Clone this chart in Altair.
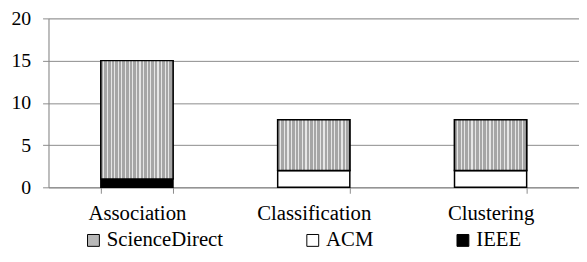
import altair as alt
import pandas as pd

categories = ["Association", "Classification", "Clustering"]
series = ["ScienceDirect", "ACM", "IEEE"]
sciencedirect = [14, 6, 6]
acm = [0, 2, 2]
ieee = [1, 0, 0]

# stacking order bottom -> top: IEEE, ACM, ScienceDirect
rows = []
for i, c in enumerate(categories):
    base = 0
    for s, vals in (("IEEE", ieee), ("ACM", acm), ("ScienceDirect", sciencedirect)):
        v = vals[i]
        if v > 0:
            rows.append({"category": c, "series": s, "y0": base, "y1": base + v})
        base += v
df = pd.DataFrame(rows)

# striped fill (vertical lines) via hard-stop gradient
n = 20
stops = []
for k in range(n):
    a = k / n
    b = (k + 0.68) / n
    e = (k + 1) / n
    stops += [
        alt.GradientStop(offset=a, color="#a6a6a6"),
        alt.GradientStop(offset=b, color="#a6a6a6"),
        alt.GradientStop(offset=b, color="#e6e6e6"),
        alt.GradientStop(offset=e, color="#e6e6e6"),
    ]
stripe = alt.LinearGradient(gradient="linear", stops=stops, x1=0, x2=1, y1=0, y2=0)

FONT = "Liberation Serif, Times New Roman, serif"

x_enc = alt.X(
    "category:N",
    sort=categories,
    scale=alt.Scale(paddingInner=0.592, paddingOuter=0.296),
    axis=alt.Axis(
        title=None, labelAngle=0, tickBand="extent", tickSize=6,
        domainColor="#8a8a8a", tickColor="#8a8a8a", labelPadding=10,
        labelFont=FONT, labelFontSize=21, labelColor="black", grid=False,
    ),
)
y_enc = alt.Y(
    "y0:Q",
    scale=alt.Scale(domain=[0, 20]),
    axis=alt.Axis(
        title=None, values=[0, 5, 10, 15, 20], tickSize=6, tickColor="#8a8a8a",
        domainColor="#8a8a8a", gridColor="#8a8a8a", grid=True, labelPadding=12,
        labelFont=FONT, labelFontSize=20, labelColor="black",
    ),
)

base = alt.Chart(df).mark_bar(stroke="black", strokeWidth=1.5).encode(
    x=x_enc,
    y=y_enc,
    y2="y1:Q",
    color=alt.Color(
        "series:N",
        scale=alt.Scale(domain=series, range=["#b8b8b8", "#ffffff", "#000000"]),
        legend=alt.Legend(
            title=None, orient="none", legendX=35, legendY=214,
            direction="horizontal", columns=3, columnPadding=80,
            symbolType="square", symbolSize=144, symbolStrokeColor="black",
            symbolStrokeWidth=1, symbolOpacity=1, labelFont=FONT, labelFontSize=21,
            labelColor="black", labelOffset=3, gridAlign="each",
        ),
    ),
)

striped = alt.Chart(df).transform_filter(
    alt.datum.series == "ScienceDirect"
).mark_bar(stroke="black", strokeWidth=1.5, fill=stripe).encode(
    x=alt.X("category:N", sort=categories),
    y=alt.Y("y0:Q"),
    y2="y1:Q",
)

chart = alt.layer(base, striped).properties(
    width=537, height=171,
    autosize=alt.AutoSizeParams(type="none"),
    padding={"left": 41, "top": 9, "right": 0, "bottom": 68},
).configure_view(stroke=None).configure(font=FONT)

chart.save("out.html", embed_options={"renderer": "svg", "actions": False})
